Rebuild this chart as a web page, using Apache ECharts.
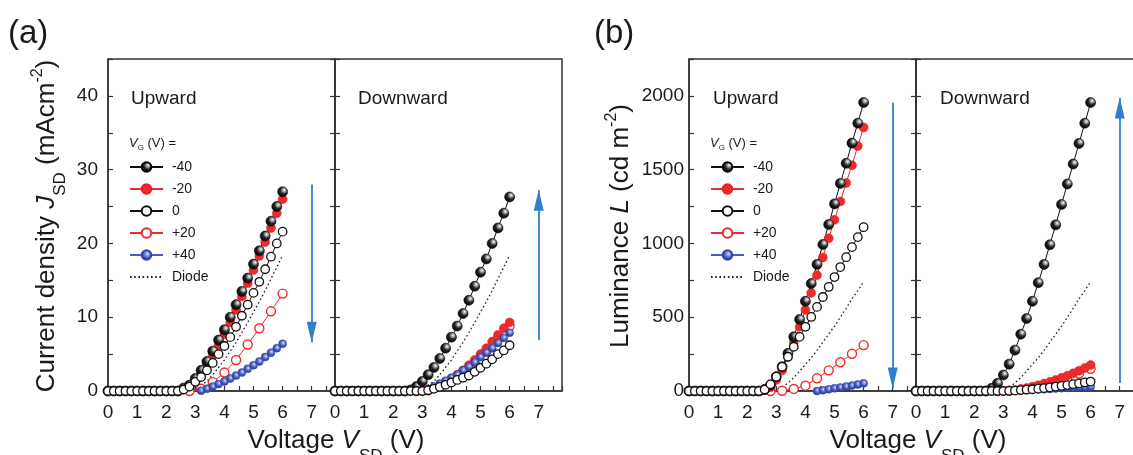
<!DOCTYPE html>
<html>
<head>
<meta charset="utf-8">
<script src="https://cdn.jsdelivr.net/npm/echarts@6/dist/echarts.min.js"></script>
<style>
  html, body { margin: 0; padding: 0; background: #ffffff; }
  #chart { width: 1133px; height: 455px; }
</style>
</head>
<body>
<div id="chart"></div>
<script>
// ---- Sweep voltages (V) ----
const voltage = [0, 0.2, 0.4, 0.6, 0.8, 1.0, 1.2, 1.4, 1.6, 1.8, 2.0, 2.2, 2.4, 2.6, 2.8,
  3.0, 3.2, 3.4, 3.6, 3.8, 4.0, 4.2, 4.4, 4.6, 4.8, 5.0, 5.2, 5.4, 5.6, 5.8, 6.0];
const voltageCoarse = [0, 0.4, 0.8, 1.2, 1.6, 2.0, 2.4, 2.8, 3.2, 3.6, 4.0, 4.4, 4.8, 5.2, 5.6, 6.0];

// ---- Current density J_SD (mA/cm2), upward emission ----
const jUpM40 = [0,0,0,0,0,0,0,0,0,0,0,0,0, 0.4,0.8,1.7,2.8,4.0,5.4,6.9,8.3,10.0,11.7,13.5,15.3,17.2,19.0,21.0,23.0,25.0,27.0];
const jUpM20 = [0,0,0,0,0,0,0,0,0,0,0,0,0, 0.2,0.6,1.3,2.3,3.5,4.8,6.2,7.7,9.3,11.0,12.8,14.6,16.4,18.3,20.2,22.1,24.1,26.0];
const jUp0   = [0,0,0,0,0,0,0,0,0,0,0,0,0, 0.2,0.6,1.25,1.9,2.8,3.8,5.0,6.1,7.3,8.7,10.2,11.7,13.3,14.8,16.5,18.2,20.0,21.6];
const jUpP20 = [0,0,0,0,0,0,0,0, 0.3,1.2,2.5,4.2,6.3,8.5,10.8,13.2];
const jUpP40 = [0.05,0.3,0.6,0.95,1.3,1.7,2.1,2.5,3.0,3.5,4.0,4.6,5.2,5.8,6.4];

// ---- Current density J_SD (mA/cm2), downward emission ----
const jDownM40 = [0,0,0,0,0,0,0,0,0,0,0,0,0, 0.15,0.6,1.3,2.2,3.2,4.4,5.8,7.3,8.8,10.5,12.3,14.2,16.1,17.9,20.0,22.1,24.1,26.3];
const jDownM20 = [0,0,0,0,0,0,0,0,0,0,0,0,0,0,0,0, 0.15,0.4,0.8,1.2,1.7,2.2,2.8,3.5,4.2,5.0,5.8,6.7,7.6,8.5,9.3];
const jDown0   = [0,0,0,0,0,0,0,0,0,0,0,0,0,0,0,0, 0.1,0.3,0.55,0.85,1.15,1.5,1.8,2.1,2.6,3.15,3.7,4.3,5.0,5.5,6.2];
const jDownP20 = [0,0,0,0,0,0,0,0, 0.1,0.7,1.5,2.6,3.9,5.4,7.1,8.8];
const jDownP40 = [0, 0.2,0.6,1.0,1.4,1.8,2.2,2.8,3.3,3.9,4.6,5.2,5.8,6.5,7.2,7.9];

// ---- Reference diode (no gate), from 2.8 V ----
const jDiode = [0, 0.3,0.8,1.3,2.2,3.2,4.2,5.4,6.6,7.9,9.3,10.7,12.1,13.6,15.2,16.8,18.4];

// ---- Luminance L (cd/m2), upward emission ----
const lUpM40 = [0,0,0,0,0,0,0,0,0,0,0,0,0, 10,40,97,165,255,367,485,608,728,858,993,1128,1268,1407,1543,1680,1815,1955];
const lUpM20 = [0,0,0,0,0,0,0,0,0,0,0,0,0, 5,25,75,140,230,330,435,550,665,785,905,1035,1160,1285,1410,1530,1660,1786];
const lUp0   = [0,0,0,0,0,0,0,0,0,0,0,0,0, 10,45,97,164,232,300,367,435,502,570,637,705,772,840,907,975,1043,1110];
const lUpP20 = [0,0,0,0,0,0,0,0, 2,14,36,86,140,195,252,311];
const lUpP40 = [0, 5,12,18,24,30,37,44,52];

// ---- Luminance L (cd/m2), downward emission ----
const lDownM40 = [0,0,0,0,0,0,0,0,0,0,0,0,0, 18,52,108,182,277,385,491,608,734,858,991,1126,1264,1403,1538,1678,1815,1955];
const lDownM20 = [0,0,0,0,0,0,0,0,0,0,0,0,0,0,0,0, 3,7,13,20,29,39,50,62,75,89,104,120,137,156,176];
const lDown0   = [0,0,0,0,0,0,0,0,0,0,0,0,0,0,0,0, 1,3,6,9,12,16,20,25,30,35,40,46,52,58,64];
const lDownP20 = [0,0,0,0,0,0,0,0, 2,9,22,40,62,88,118,150];
const lDownP40 = [0, 1,2,3,5,6,8,10,12,14,17,19,21,23,25,27,29];

const lDiode = [0, 5,25,55,90,135,180,225,275,330,385,440,500,560,625,680,740];

// ---- Trend arrows at V = 7: [start, tip] ----
const arrowVoltage = 7;
const arrowJUp = [28, 6.6];
const arrowJDown = [6.9, 27.2];
const arrowLUp = [1953, 20];
const arrowLDown = [54, 1986];

const legendNames = ['-40', '-20', '0', '+20', '+40', 'Diode'];

const FONT = '"Liberation Sans", Arial, Helvetica, sans-serif';
const INK = '#1a1a1a';
const FRAME = '#333333';
const ARROW = '#2f80cc';

// Pair y values with the sweep voltages; shorter series end at the last voltage.
function pairs(xs, ys) {
  const off = xs.length - ys.length;
  return ys.map((y, i) => [xs[i + off], y]);
}

const sphereBlack = {
  type: 'radial', x: 0.64, y: 0.34, r: 0.72,
  colorStops: [
    { offset: 0, color: '#ffffff' }, { offset: 0.18, color: '#b0b0b0' },
    { offset: 0.5, color: '#232323' }, { offset: 1, color: '#000000' }
  ]
};
const sphereBlue = {
  type: 'radial', x: 0.58, y: 0.4, r: 0.72,
  colorStops: [
    { offset: 0, color: '#eef2ff' }, { offset: 0.2, color: '#8c9ce0' },
    { offset: 0.55, color: '#3a4fb2' }, { offset: 1, color: '#25348a' }
  ]
};

const seriesStyle = {
  '-40': { symbol: 'circle', symbolSize: 10, itemStyle: { color: sphereBlack, borderColor: '#000', borderWidth: 0.6 }, lineStyle: { color: '#111', width: 1 } },
  '-20': { symbol: 'circle', symbolSize: 9, itemStyle: { color: '#ee2a2a', borderColor: '#e52222', borderWidth: 0.5 }, lineStyle: { color: '#ee2a2a', width: 1 } },
  '0':   { symbol: 'circle', symbolSize: 8.5, itemStyle: { color: '#ffffff', borderColor: '#111', borderWidth: 1.3 }, lineStyle: { color: '#111', width: 1 } },
  '+20': { symbol: 'circle', symbolSize: 9, itemStyle: { color: '#ffffff', borderColor: '#ee2a2a', borderWidth: 1.4 }, lineStyle: { color: '#ee2a2a', width: 1 } },
  '+40': { symbol: 'circle', symbolSize: 8, itemStyle: { color: sphereBlue, borderColor: '#3345a8', borderWidth: 0.5 }, lineStyle: { color: '#4a5cc0', width: 1 } },
  'Diode': { symbol: 'none', symbolSize: 0, itemStyle: { color: 'rgba(0,0,0,0)', borderWidth: 0 }, lineStyle: { color: '#222', width: 1.3, type: [1.6, 2.6] } }
};

const voltageDiode = voltage.slice(14);

// Four plot frames: current (up/down), luminance (up/down)
const frames = [
  { x: 0, y: 0, sets: [['+20', voltageCoarse, jUpP20], ['-20', voltage, jUpM20], ['+40', voltage, jUpP40], ['-40', voltage, jUpM40], ['0', voltage, jUp0]], diode: jDiode, arrow: arrowJUp },
  { x: 1, y: 2, sets: [['+20', voltageCoarse, jDownP20], ['-20', voltage, jDownM20], ['+40', voltage, jDownP40], ['-40', voltage, jDownM40], ['0', voltage, jDown0]], diode: jDiode, arrow: arrowJDown },
  { x: 2, y: 3, sets: [['+20', voltageCoarse, lUpP20], ['-20', voltage, lUpM20], ['+40', voltage, lUpP40], ['-40', voltage, lUpM40], ['0', voltage, lUp0]], diode: lDiode, arrow: arrowLUp },
  { x: 3, y: 5, sets: [['+20', voltageCoarse, lDownP20], ['-20', voltage, lDownM20], ['+40', voltage, lDownP40], ['-40', voltage, lDownM40], ['0', voltage, lDown0]], diode: lDiode, arrow: arrowLDown }
];

const series = [];
frames.forEach(f => {
  const ds = seriesStyle['Diode'];
  series.push({
    type: 'line', name: 'Diode', xAxisIndex: f.x, yAxisIndex: f.y,
    data: pairs(voltageDiode, f.diode), symbol: 'none', showSymbol: false,
    itemStyle: ds.itemStyle, lineStyle: ds.lineStyle, animation: false, silent: true,
    markLine: {
      silent: true, animation: false,
      label: { show: false },
      emphasis: { disabled: true },
      lineStyle: { color: ARROW, width: 1.8, type: 'solid' },
      data: [[
        { coord: [arrowVoltage, f.arrow[0]], symbol: 'none' },
        { coord: [arrowVoltage, f.arrow[1]], symbol: 'triangle', symbolSize: [10, 21], symbolOffset: [0, 10] }
      ]]
    }
  });
  f.sets.forEach(([name, xs, ys]) => {
    const st = seriesStyle[name];
    series.push({
      type: 'line', name, xAxisIndex: f.x, yAxisIndex: f.y,
      data: pairs(xs, ys),
      symbol: st.symbol, symbolSize: st.symbolSize, showSymbol: true,
      itemStyle: st.itemStyle, lineStyle: st.lineStyle,
      animation: false, silent: true, emphasis: { disabled: true }
    });
  });
});

// The last frame runs past the right edge of the page.
const gridTop = 59, gridH = 332, gridW = 227;
const grids = [
  { left: 108, top: gridTop, width: gridW, height: gridH },
  { left: 335, top: gridTop, width: gridW, height: gridH },
  { left: 689, top: gridTop, width: gridW, height: gridH },
  { left: 916, top: gridTop, width: gridW, height: gridH }
].map(g => Object.assign(g, {
  show: true, borderColor: FRAME, borderWidth: 1.5, backgroundColor: 'transparent',
  containLabel: false, outerBoundsMode: 'none'
}));

function xAxis(gi) {
  return {
    type: 'value', gridIndex: gi, min: 0, max: 7.8, interval: 0.5,
    axisLine: { show: true, lineStyle: { color: FRAME, width: 1.5 } },
    axisTick: { show: true, inside: true, length: 5, lineStyle: { color: FRAME, width: 1.2 } },
    axisLabel: {
      show: true, margin: 12, fontSize: 19, fontFamily: FONT, color: INK,
      formatter: v => (Math.abs(v - Math.round(v)) < 1e-6 ? String(Math.round(v)) : '')
    },
    splitLine: { show: false }
  };
}
function yAxis(gi, max, step, labelEvery, showLabel, position, margin) {
  return {
    type: 'value', gridIndex: gi, min: 0, max: max, interval: step, position: position,
    axisLine: { show: position === 'left', lineStyle: { color: FRAME, width: 1.5 } },
    axisTick: { show: true, inside: true, length: 5, lineStyle: { color: FRAME, width: 1.2 } },
    axisLabel: {
      show: showLabel, margin: margin, fontSize: 19, fontFamily: FONT, color: INK,
      formatter: v => (Math.abs(v % labelEvery) < 1e-6 ? String(v) : '')
    },
    splitLine: { show: false }
  };
}

const titleRich = (size, lh) => ({
  n: { fontSize: size, fontFamily: FONT, color: INK, lineHeight: lh },
  i: { fontSize: size, fontFamily: FONT, fontStyle: 'italic', color: INK, lineHeight: lh },
  sub: { fontSize: Math.round(size * 0.64), fontFamily: FONT, color: INK, verticalAlign: 'bottom' },
  sup: { fontSize: Math.round(size * 0.6), fontFamily: FONT, color: INK, verticalAlign: 'top', padding: [5, 0, 0, 0] }
});

function textEl(x, y, text, size, extra) {
  return Object.assign({
    type: 'text', x: x, y: y, silent: true,
    style: { text: text, fontSize: size, fontFamily: FONT, fill: INK, align: 'left', verticalAlign: 'middle' }
  }, extra || {});
}
function richEl(x, y, text, rich, rotation, align) {
  return {
    type: 'text', x: x, y: y, rotation: rotation || 0, silent: true,
    style: { text: text, rich: rich, align: align || 'center', verticalAlign: 'middle', fontFamily: FONT, fill: INK }
  };
}

const legendRich = {
  i: { fontSize: 13, fontFamily: FONT, fontStyle: 'italic', color: INK, lineHeight: 18 },
  sub: { fontSize: 8, fontFamily: FONT, color: INK, verticalAlign: 'bottom' },
  n: { fontSize: 13, fontFamily: FONT, color: INK, lineHeight: 18 }
};

function legend(left) {
  return {
    show: true, orient: 'vertical', left: left, top: 160, padding: 0,
    itemWidth: 33, itemHeight: 12, itemGap: 8,
    selectedMode: false,
    data: legendNames,
    formatter: name => ' ' + name,
    textStyle: { fontSize: 14, fontFamily: FONT, color: INK }
  };
}

const option = {
  backgroundColor: '#ffffff',
  animation: false,
  grid: grids,
  xAxis: [xAxis(0), xAxis(1), xAxis(2), xAxis(3)],
  yAxis: [
    yAxis(0, 45, 5, 10, true, 'left', 10),
    yAxis(0, 45, 5, 10, false, 'right', 8),
    yAxis(1, 45, 5, 10, false, 'left', 8),
    yAxis(2, 2250, 250, 500, true, 'left', 5),
    yAxis(2, 2250, 250, 500, false, 'right', 8),
    yAxis(3, 2250, 250, 500, false, 'left', 8)
  ],
  legend: [legend(129), legend(710)],
  series: series,
  graphic: [
    textEl(8, 34, '(a)', 33),
    textEl(594, 34, '(b)', 33),
    textEl(131, 99, 'Upward', 19),
    textEl(358, 99, 'Downward', 19),
    textEl(713, 99, 'Upward', 19),
    textEl(940, 99, 'Downward', 19),
    richEl(129, 143, '{i|V}{sub|G}{n| (V) =}', legendRich, 0, 'left'),
    richEl(710, 143, '{i|V}{sub|G}{n| (V) =}', legendRich, 0, 'left'),
    richEl(47, 226, '{n|Current density }{i|J}{sub|SD}{n| (mAcm}{sup|-2}{n|)}', titleRich(26, 44), Math.PI / 2),
    richEl(621, 226, '{n|Luminance }{i|L}{n| (cd m}{sup|-2}{n|)}', titleRich(26, 44), Math.PI / 2),
    richEl(336, 441, '{n|Voltage }{i|V}{sub|SD}{n| (V)}', titleRich(26, 48), 0),
    richEl(918, 441, '{n|Voltage }{i|V}{sub|SD}{n| (V)}', titleRich(26, 48), 0)
  ]
};

const chart = echarts.init(document.getElementById('chart'), null, { renderer: 'canvas' });
chart.setOption(option);
</script>
</body>
</html>
